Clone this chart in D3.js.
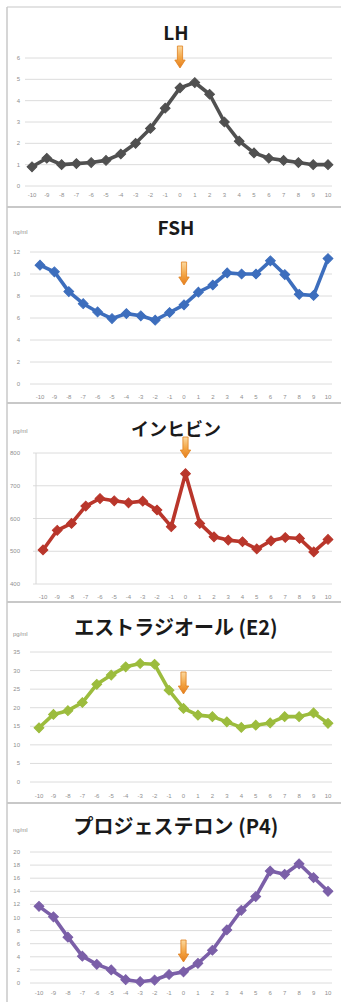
<!DOCTYPE html>
<html>
<head>
<meta charset="utf-8">
<script src="https://cdn.jsdelivr.net/npm/d3@7"></script>
<style>
  html, body { margin: 0; padding: 0; background: #fff; }
  svg { display: block; }
</style>
</head>
<body>
<div id="chart"></div>
<script>
// Cycle day relative to the LH surge (day 0)
const days = ["-10","-9","-8","-7","-6","-5","-4","-3","-2","-1","0","1","2","3","4","5","6","7","8","9","10"];

// Hormone levels per day
const lhValues      = [0.9, 1.3, 1.0, 1.05, 1.1, 1.2, 1.5, 2.0, 2.7, 3.65, 4.6, 4.85, 4.3, 3.0, 2.1, 1.55, 1.3, 1.2, 1.1, 1.0, 1.0];
const fshValues     = [10.8, 10.2, 8.4, 7.3, 6.55, 5.95, 6.4, 6.2, 5.8, 6.5, 7.2, 8.35, 9.0, 10.1, 10.0, 10.0, 11.2, 9.95, 8.15, 8.05, 11.4];
const inhibinValues = [504, 564, 585, 638, 661, 654, 648, 653, 626, 575, 737, 585, 544, 534, 529, 507, 532, 542, 539, 498, 536];
const e2Values      = [14.6, 18.2, 19.2, 21.4, 26.3, 28.8, 31.0, 31.9, 31.7, 24.7, 19.8, 18.0, 17.6, 16.2, 14.7, 15.3, 15.9, 17.6, 17.6, 18.6, 15.8];
const p4Values      = [11.7, 10.1, 7.0, 4.1, 2.85, 2.0, 0.5, 0.2, 0.45, 1.3, 1.7, 3.0, 5.0, 8.1, 11.1, 13.2, 17.1, 16.6, 18.2, 16.1, 14.0];

// Axis tick labels
const lhTicks      = [0, 1, 2, 3, 4, 5, 6];
const fshTicks     = [0, 2, 4, 6, 8, 10, 12];
const inhibinTicks = [400, 500, 600, 700, 800];
const e2Ticks      = [0, 5, 10, 15, 20, 25, 30, 35];
const p4Ticks      = [0, 2, 4, 6, 8, 10, 12, 14, 16, 18, 20];

const titles = ["LH", "FSH", "インヒビン", "エストラジオール (E2)", "プロジェステロン (P4)"];
const units  = [null, "ng/ml", "pg/ml", "pg/ml", "ng/ml"];
const surgeDay = "0";

const W = 341, H = 1002;

// Layout of the five stacked panels
const panels = [
  { title: titles[0], unit: units[0], values: lhValues, ticks: lhTicks, color: "#505050",
    x: [32, 328], y: [186, 58], gridX: [25, 332], titleY: 40, titleSize: 19, unitY: null,
    xLabY: 197, arrow: [46, 68] },
  { title: titles[1], unit: units[1], values: fshValues, ticks: fshTicks, color: "#3d6ebd",
    x: [40, 328], y: [384, 252], gridX: [30, 332], titleY: 235, titleSize: 19, unitY: 234,
    xLabY: 399, arrow: [262, 285] },
  { title: titles[2], unit: units[2], values: inhibinValues, ticks: inhibinTicks, color: "#b9362b",
    x: [43, 328], y: [584, 453], gridX: [33, 332], titleY: 436, titleSize: 18, unitY: 433,
    xLabY: 599, arrow: [437, 458], yAxisLine: 36 },
  { title: titles[3], unit: units[3], values: e2Values, ticks: e2Ticks, color: "#9cbc3d",
    x: [39, 328], y: [782, 652], gridX: [30, 332], titleY: 635, titleSize: 20, unitY: 636,
    xLabY: 798, arrow: [672, 694] },
  { title: titles[4], unit: units[4], values: p4Values, ticks: p4Ticks, color: "#7b5fa8",
    x: [39, 328], y: [983, 852], gridX: [30, 332], titleY: 834, titleSize: 20, unitY: 832,
    xLabY: 995, arrow: [940, 962] }
];

const svg = d3.select("#chart").append("svg")
  .attr("width", W).attr("height", H)
  .style("background", "#fff");

const defs = svg.append("defs");
const grad = defs.append("linearGradient").attr("id", "arrowFill")
  .attr("x1", 0).attr("y1", 0).attr("x2", 0).attr("y2", 1);
grad.append("stop").attr("offset", "0%").attr("stop-color", "#fbd9a0");
grad.append("stop").attr("offset", "55%").attr("stop-color", "#f3a443");
grad.append("stop").attr("offset", "100%").attr("stop-color", "#e57d1c");

// Panel frames: left edge, top edge and separators between charts
const frame = svg.append("g").attr("stroke", "#c8c8c8").attr("fill", "none");
frame.append("line").attr("x1", 7).attr("x2", 7).attr("y1", 7).attr("y2", H).attr("stroke-width", 1.5);
[7, 207, 403, 602, 803].forEach(y => {
  frame.append("line").attr("x1", 7).attr("x2", W).attr("y1", y).attr("y2", y)
    .attr("stroke-width", y === 7 ? 1.2 : 2);
});

const diamond = d3.symbol().type(d3.symbolSquare).size(48);

panels.forEach(p => {
  const g = svg.append("g");
  const x = d3.scalePoint().domain(days).range(p.x);
  const y = d3.scaleLinear().domain(d3.extent(p.ticks)).range(p.y);

  // horizontal gridlines
  g.append("g").selectAll("line").data(p.ticks).join("line")
    .attr("x1", p.gridX[0]).attr("x2", p.gridX[1])
    .attr("y1", d => y(d)).attr("y2", d => y(d))
    .attr("stroke", "#dcdcdc").attr("stroke-width", 1);

  if (p.yAxisLine) {
    g.append("line")
      .attr("x1", p.yAxisLine).attr("x2", p.yAxisLine)
      .attr("y1", y(d3.max(p.ticks))).attr("y2", y(d3.min(p.ticks)))
      .attr("stroke", "#d6d6d6");
  }

  // y tick labels
  g.append("g").selectAll("text").data(p.ticks).join("text")
    .attr("x", 20).attr("y", d => y(d) + 2)
    .attr("text-anchor", "end")
    .attr("font-family", "Liberation Sans, Arial, sans-serif")
    .attr("font-size", 6).attr("fill", "#8f8f8f")
    .text(d => d);

  // x tick labels
  g.append("g").selectAll("text").data(days).join("text")
    .attr("x", d => x(d)).attr("y", p.xLabY)
    .attr("text-anchor", "middle")
    .attr("font-family", "Liberation Sans, Arial, sans-serif")
    .attr("font-size", 6).attr("fill", "#8f8f8f")
    .text(d => d);

  // unit label
  if (p.unit) {
    g.append("text").attr("x", 13).attr("y", p.unitY)
      .attr("font-family", "Liberation Sans, Arial, sans-serif")
      .attr("font-size", 6).attr("fill", "#8f8f8f")
      .text(p.unit);
  }

  // title
  g.append("text").attr("x", 176).attr("y", p.titleY)
    .attr("text-anchor", "middle")
    .attr("font-family", "Noto Sans CJK JP, Noto Sans, sans-serif")
    .attr("font-weight", "bold")
    .attr("font-size", p.titleSize).attr("fill", "#1a1a1a")
    .text(p.title);

  // series line
  const pts = days.map((d, i) => [d, p.values[i]]);
  g.append("path").datum(pts)
    .attr("fill", "none").attr("stroke", p.color)
    .attr("stroke-width", 3.6).attr("stroke-linejoin", "round")
    .attr("d", d3.line().x(d => x(d[0])).y(d => y(d[1])));

  // diamond markers
  g.append("g").selectAll("path").data(pts).join("path")
    .attr("d", diamond)
    .attr("transform", d => `translate(${x(d[0])},${y(d[1])}) rotate(45)`)
    .attr("fill", p.color).attr("stroke", p.color).attr("stroke-width", 1);

  // surge arrow at day 0
  const ax = x(surgeDay), t = p.arrow[0], b = p.arrow[1];
  const hh = 8, sw = 2.6, hw = 5.2;
  const arrowPath = d3.path();
  arrowPath.moveTo(ax - sw, t);
  arrowPath.lineTo(ax + sw, t);
  arrowPath.lineTo(ax + sw, b - hh);
  arrowPath.lineTo(ax + hw, b - hh);
  arrowPath.lineTo(ax, b);
  arrowPath.lineTo(ax - hw, b - hh);
  arrowPath.lineTo(ax - sw, b - hh);
  arrowPath.closePath();
  g.append("path").attr("d", arrowPath.toString())
    .attr("fill", "url(#arrowFill)")
    .attr("stroke", "#e0801f").attr("stroke-width", 0.8);
});
</script>
</body>
</html>
